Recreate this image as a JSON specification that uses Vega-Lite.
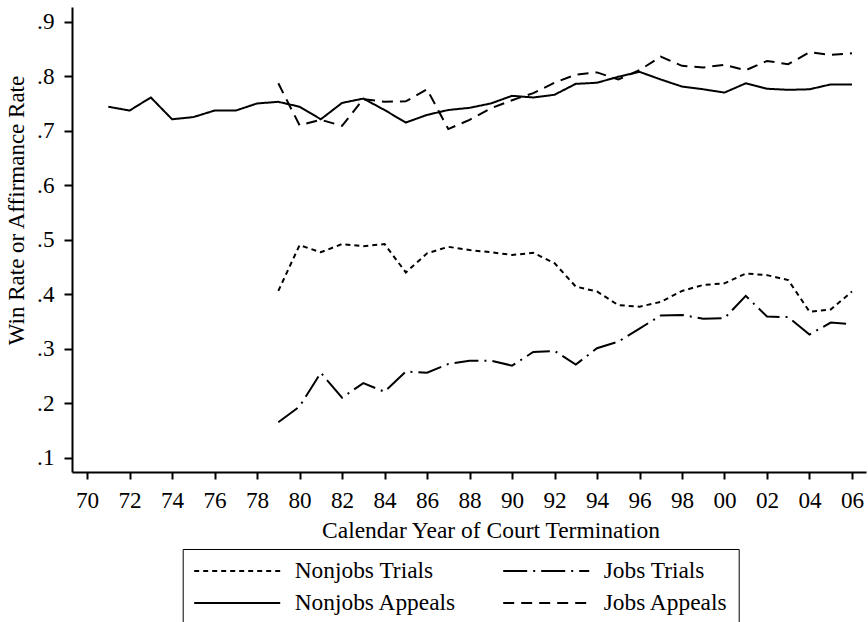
{
  "$schema": "https://vega.github.io/schema/vega-lite/v6.json",
  "width": 794,
  "height": 465,
  "autosize": {"type": "none"},
  "padding": {"left": 72, "top": 7, "right": 2, "bottom": 150},
  "background": "white",
  "config": {
    "view": {"stroke": null},
    "font": "Liberation Serif",
    "axis": {
      "domainColor": "black",
      "domainWidth": 2,
      "tickColor": "black",
      "tickWidth": 2,
      "grid": false,
      "labelFont": "Liberation Serif",
      "labelColor": "black",
      "labelFontSize": 23.2,
      "titleFont": "Liberation Serif",
      "titleColor": "black",
      "titleFontSize": 23.5,
      "titleFontWeight": "normal"
    }
  },
  "data": {
    "values": [
      {"year": 1971, "series": "Nonjobs Appeals", "rate": 0.744},
      {"year": 1972, "series": "Nonjobs Appeals", "rate": 0.737},
      {"year": 1973, "series": "Nonjobs Appeals", "rate": 0.761},
      {"year": 1974, "series": "Nonjobs Appeals", "rate": 0.721},
      {"year": 1975, "series": "Nonjobs Appeals", "rate": 0.725},
      {"year": 1976, "series": "Nonjobs Appeals", "rate": 0.737},
      {"year": 1977, "series": "Nonjobs Appeals", "rate": 0.737},
      {"year": 1978, "series": "Nonjobs Appeals", "rate": 0.750},
      {"year": 1979, "series": "Nonjobs Appeals", "rate": 0.753},
      {"year": 1980, "series": "Nonjobs Appeals", "rate": 0.744},
      {"year": 1981, "series": "Nonjobs Appeals", "rate": 0.721},
      {"year": 1982, "series": "Nonjobs Appeals", "rate": 0.751},
      {"year": 1983, "series": "Nonjobs Appeals", "rate": 0.759},
      {"year": 1984, "series": "Nonjobs Appeals", "rate": 0.738},
      {"year": 1985, "series": "Nonjobs Appeals", "rate": 0.715},
      {"year": 1986, "series": "Nonjobs Appeals", "rate": 0.729},
      {"year": 1987, "series": "Nonjobs Appeals", "rate": 0.738},
      {"year": 1988, "series": "Nonjobs Appeals", "rate": 0.742},
      {"year": 1989, "series": "Nonjobs Appeals", "rate": 0.750},
      {"year": 1990, "series": "Nonjobs Appeals", "rate": 0.764},
      {"year": 1991, "series": "Nonjobs Appeals", "rate": 0.761},
      {"year": 1992, "series": "Nonjobs Appeals", "rate": 0.766},
      {"year": 1993, "series": "Nonjobs Appeals", "rate": 0.786},
      {"year": 1994, "series": "Nonjobs Appeals", "rate": 0.788},
      {"year": 1995, "series": "Nonjobs Appeals", "rate": 0.799},
      {"year": 1996, "series": "Nonjobs Appeals", "rate": 0.808},
      {"year": 1997, "series": "Nonjobs Appeals", "rate": 0.794},
      {"year": 1998, "series": "Nonjobs Appeals", "rate": 0.781},
      {"year": 1999, "series": "Nonjobs Appeals", "rate": 0.776},
      {"year": 2000, "series": "Nonjobs Appeals", "rate": 0.770},
      {"year": 2001, "series": "Nonjobs Appeals", "rate": 0.787},
      {"year": 2002, "series": "Nonjobs Appeals", "rate": 0.777},
      {"year": 2003, "series": "Nonjobs Appeals", "rate": 0.775},
      {"year": 2004, "series": "Nonjobs Appeals", "rate": 0.776},
      {"year": 2005, "series": "Nonjobs Appeals", "rate": 0.785},
      {"year": 2006, "series": "Nonjobs Appeals", "rate": 0.785},

      {"year": 1979, "series": "Jobs Appeals", "rate": 0.787},
      {"year": 1980, "series": "Jobs Appeals", "rate": 0.710},
      {"year": 1981, "series": "Jobs Appeals", "rate": 0.720},
      {"year": 1982, "series": "Jobs Appeals", "rate": 0.709},
      {"year": 1983, "series": "Jobs Appeals", "rate": 0.758},
      {"year": 1984, "series": "Jobs Appeals", "rate": 0.753},
      {"year": 1985, "series": "Jobs Appeals", "rate": 0.754},
      {"year": 1986, "series": "Jobs Appeals", "rate": 0.776},
      {"year": 1987, "series": "Jobs Appeals", "rate": 0.703},
      {"year": 1988, "series": "Jobs Appeals", "rate": 0.720},
      {"year": 1989, "series": "Jobs Appeals", "rate": 0.741},
      {"year": 1990, "series": "Jobs Appeals", "rate": 0.756},
      {"year": 1991, "series": "Jobs Appeals", "rate": 0.769},
      {"year": 1992, "series": "Jobs Appeals", "rate": 0.788},
      {"year": 1993, "series": "Jobs Appeals", "rate": 0.803},
      {"year": 1994, "series": "Jobs Appeals", "rate": 0.807},
      {"year": 1995, "series": "Jobs Appeals", "rate": 0.794},
      {"year": 1996, "series": "Jobs Appeals", "rate": 0.811},
      {"year": 1997, "series": "Jobs Appeals", "rate": 0.836},
      {"year": 1998, "series": "Jobs Appeals", "rate": 0.819},
      {"year": 1999, "series": "Jobs Appeals", "rate": 0.816},
      {"year": 2000, "series": "Jobs Appeals", "rate": 0.821},
      {"year": 2001, "series": "Jobs Appeals", "rate": 0.811},
      {"year": 2002, "series": "Jobs Appeals", "rate": 0.828},
      {"year": 2003, "series": "Jobs Appeals", "rate": 0.822},
      {"year": 2004, "series": "Jobs Appeals", "rate": 0.844},
      {"year": 2005, "series": "Jobs Appeals", "rate": 0.839},
      {"year": 2006, "series": "Jobs Appeals", "rate": 0.842},

      {"year": 1979, "series": "Nonjobs Trials", "rate": 0.406},
      {"year": 1980, "series": "Nonjobs Trials", "rate": 0.490},
      {"year": 1981, "series": "Nonjobs Trials", "rate": 0.477},
      {"year": 1982, "series": "Nonjobs Trials", "rate": 0.492},
      {"year": 1983, "series": "Nonjobs Trials", "rate": 0.488},
      {"year": 1984, "series": "Nonjobs Trials", "rate": 0.492},
      {"year": 1985, "series": "Nonjobs Trials", "rate": 0.440},
      {"year": 1986, "series": "Nonjobs Trials", "rate": 0.475},
      {"year": 1987, "series": "Nonjobs Trials", "rate": 0.487},
      {"year": 1988, "series": "Nonjobs Trials", "rate": 0.481},
      {"year": 1989, "series": "Nonjobs Trials", "rate": 0.477},
      {"year": 1990, "series": "Nonjobs Trials", "rate": 0.472},
      {"year": 1991, "series": "Nonjobs Trials", "rate": 0.476},
      {"year": 1992, "series": "Nonjobs Trials", "rate": 0.457},
      {"year": 1993, "series": "Nonjobs Trials", "rate": 0.414},
      {"year": 1994, "series": "Nonjobs Trials", "rate": 0.405},
      {"year": 1995, "series": "Nonjobs Trials", "rate": 0.380},
      {"year": 1996, "series": "Nonjobs Trials", "rate": 0.377},
      {"year": 1997, "series": "Nonjobs Trials", "rate": 0.386},
      {"year": 1998, "series": "Nonjobs Trials", "rate": 0.406},
      {"year": 1999, "series": "Nonjobs Trials", "rate": 0.417},
      {"year": 2000, "series": "Nonjobs Trials", "rate": 0.420},
      {"year": 2001, "series": "Nonjobs Trials", "rate": 0.438},
      {"year": 2002, "series": "Nonjobs Trials", "rate": 0.435},
      {"year": 2003, "series": "Nonjobs Trials", "rate": 0.426},
      {"year": 2004, "series": "Nonjobs Trials", "rate": 0.368},
      {"year": 2005, "series": "Nonjobs Trials", "rate": 0.372},
      {"year": 2006, "series": "Nonjobs Trials", "rate": 0.405},

      {"year": 1979, "series": "Jobs Trials", "rate": 0.165},
      {"year": 1980, "series": "Jobs Trials", "rate": 0.194},
      {"year": 1981, "series": "Jobs Trials", "rate": 0.256},
      {"year": 1982, "series": "Jobs Trials", "rate": 0.210},
      {"year": 1983, "series": "Jobs Trials", "rate": 0.237},
      {"year": 1984, "series": "Jobs Trials", "rate": 0.221},
      {"year": 1985, "series": "Jobs Trials", "rate": 0.258},
      {"year": 1986, "series": "Jobs Trials", "rate": 0.256},
      {"year": 1987, "series": "Jobs Trials", "rate": 0.272},
      {"year": 1988, "series": "Jobs Trials", "rate": 0.278},
      {"year": 1989, "series": "Jobs Trials", "rate": 0.278},
      {"year": 1990, "series": "Jobs Trials", "rate": 0.269},
      {"year": 1991, "series": "Jobs Trials", "rate": 0.294},
      {"year": 1992, "series": "Jobs Trials", "rate": 0.296},
      {"year": 1993, "series": "Jobs Trials", "rate": 0.271},
      {"year": 1994, "series": "Jobs Trials", "rate": 0.301},
      {"year": 1995, "series": "Jobs Trials", "rate": 0.313},
      {"year": 1996, "series": "Jobs Trials", "rate": 0.337},
      {"year": 1997, "series": "Jobs Trials", "rate": 0.361},
      {"year": 1998, "series": "Jobs Trials", "rate": 0.362},
      {"year": 1999, "series": "Jobs Trials", "rate": 0.355},
      {"year": 2000, "series": "Jobs Trials", "rate": 0.356},
      {"year": 2001, "series": "Jobs Trials", "rate": 0.397},
      {"year": 2002, "series": "Jobs Trials", "rate": 0.359},
      {"year": 2003, "series": "Jobs Trials", "rate": 0.358},
      {"year": 2004, "series": "Jobs Trials", "rate": 0.326},
      {"year": 2005, "series": "Jobs Trials", "rate": 0.348},
      {"year": 2006, "series": "Jobs Trials", "rate": 0.345}
    ]
  },
  "mark": {"type": "line", "color": "black", "strokeWidth": 2},
  "encoding": {
    "x": {
      "field": "year",
      "type": "quantitative",
      "scale": {"domain": [1969.29, 2006.66], "nice": false, "zero": false},
      "axis": {
        "values": [1970,1972,1974,1976,1978,1980,1982,1984,1986,1988,1990,1992,1994,1996,1998,2000,2002,2004,2006],
        "labelExpr": "substring(toString(datum.value), 2)",
        "tickSize": 7,
        "labelPadding": 10,
        "labelFlush": false,
        "labelOverlap": false,
        "title": "Calendar Year of Court Termination",
        "titleX": 418.5,
        "titleY": 58,
        "titleAlign": "center",
        "titleBaseline": "middle"
      }
    },
    "y": {
      "field": "rate",
      "type": "quantitative",
      "scale": {"domain": [0.0738, 0.927], "nice": false, "zero": false},
      "axis": {
        "values": [0.1,0.2,0.3,0.4,0.5,0.6,0.7,0.8,0.9],
        "labelExpr": "substring(format(datum.value, '.1f'), 1)",
        "tickSize": 8,
        "labelPadding": 10,
        "labelFlush": false,
        "labelOverlap": false,
        "title": "Win Rate or Affirmance Rate",
        "titleX": -55.3,
        "titleY": 203,
        "titleAngle": 270,
        "titleAlign": "center",
        "titleBaseline": "middle",
        "titleFontSize": 23
      }
    },
    "strokeDash": {
      "field": "series",
      "type": "nominal",
      "scale": {
        "domain": ["Nonjobs Trials", "Nonjobs Appeals", "Jobs Trials", "Jobs Appeals"],
        "range": [[5, 4], [1, 0], [24, 6, 2, 6], [11, 7]]
      },
      "legend": {
        "orient": "none",
        "legendX": 110.7,
        "legendY": 542,
        "columns": 2,
        "title": null,
        "symbolType": "stroke",
        "symbolSize": 7400,
        "symbolStrokeWidth": 2,
        "symbolStrokeColor": "black",
        "clipHeight": 24,
        "labelFont": "Liberation Serif",
        "labelFontSize": 23.4,
        "labelColor": "black",
        "labelOffset": 13,
        "labelLimit": 400,
        "columnPadding": 45,
        "rowPadding": 8,
        "padding": 10,
        "strokeColor": "black"
      }
    }
  }
}
